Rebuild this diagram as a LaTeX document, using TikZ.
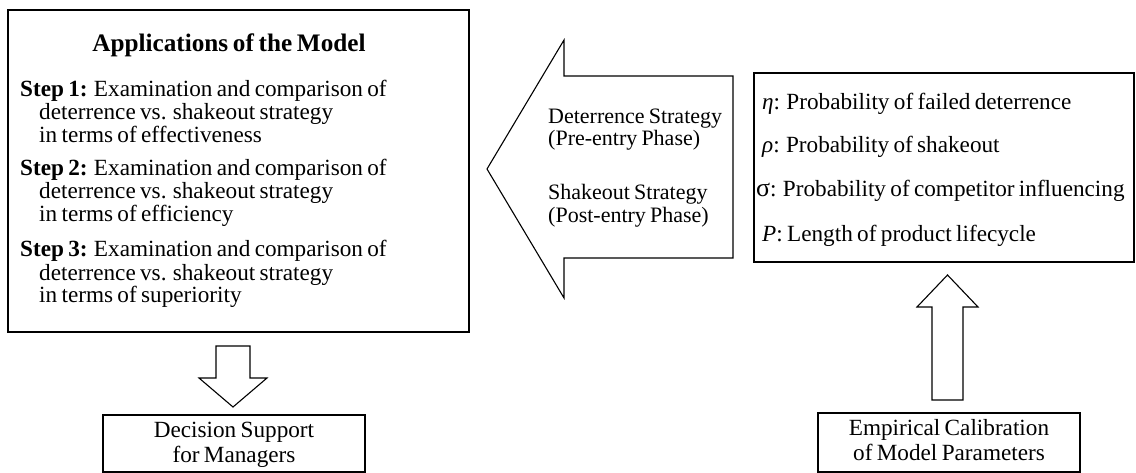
\documentclass[tikz,border=0pt]{standalone}
\usepackage{fontspec}
\setmainfont{Liberation Serif}[WordSpace=0.75]
\newcommand{\fs}{\fontsize{23.2}{23}\selectfont}
\newcommand{\farrow}{\fontsize{22}{23}\selectfont}
\newcommand{\ftitle}{\fontsize{25.2}{26}\selectfont\bfseries}

\begin{document}
\begin{tikzpicture}[x=1pt, y=-1pt,
    box/.style={draw, line width=1.6pt, inner sep=0pt},
    txt/.style={anchor=base west, inner sep=0pt, font=\fs},
    ctxt/.style={anchor=base, inner sep=0pt, font=\fs},
    blockarrow/.style={draw, line width=1.1pt, line join=miter}]
  \useasboundingbox (0,0) rectangle (1136,473);

  % boxes
  \node[box, minimum width=461pt, minimum height=322pt] (apps) at (238.5,171) {};
  \node[box, minimum width=380pt, minimum height=189pt] (params) at (944,167.5) {};
  \node[box, minimum width=262pt, minimum height=57pt] (support) at (234,443.5) {};
  \node[box, minimum width=262pt, minimum height=59pt] (calib) at (949,442.5) {};

  % applications
  \node[ctxt, font=\ftitle] (title) at (229,52) {Applications of the Model};
  \foreach \n/\what/\y in {1/effectiveness/97, 2/efficiency/176, 3/superiority/257} {
    \node[txt] (step\n-a) at (20,\y) {\textbf{Step \n:} Examination and comparison of};
    \node[txt] (step\n-b) at (39,\y+23) {deterrence vs. shakeout strategy};
    \node[txt] (step\n-c) at (39,\y+46) {in terms of \what};
  }

  % strategy arrow
  \draw[blockarrow] (733,76) -- (564,76) -- (564,40) -- (487,169) -- (564,298)
    -- (564,258) -- (733,258) -- cycle;
  \node[txt, font=\farrow] (deter) at (548,124) {Deterrence Strategy};
  \node[txt, font=\farrow] (pre) at (548,146) {(Pre-entry Phase)};
  \node[txt, font=\farrow] (shake) at (548,200) {Shakeout Strategy};
  \node[txt, font=\farrow] (post) at (548,223) {(Post-entry Phase)};

  % parameters
  \node[txt] (eta) at (762,110) {\textit{η}: Probability of failed deterrence};
  \node[txt] (rho) at (762,153) {\textit{ρ}: Probability of shakeout};
  \node[txt] (sigma) at (756,197) {{\fontsize{26}{23}\selectfont σ}: Probability of competitor influencing};
  \node[txt] (plen) at (762,242) {\textit{P}: Length of product lifecycle};

  % bottom boxes
  \node[ctxt] (dec) at (234,437) {Decision Support};
  \node[ctxt] (man) at (234,462) {for Managers};
  \node[ctxt] (emp) at (949,435) {Empirical Calibration};
  \node[ctxt] (mod) at (949,460) {of Model Parameters};

  % small arrows
  \draw[blockarrow] (216,346) -- (250,346) -- (250,378) -- (267,378) -- (233,407)
    -- (199,378) -- (216,378) -- cycle;
  \draw[blockarrow] (932,400) -- (932,307) -- (917,307) -- (947.5,275) -- (978,307)
    -- (963,307) -- (963,400) -- cycle;
\end{tikzpicture}
\end{document}
